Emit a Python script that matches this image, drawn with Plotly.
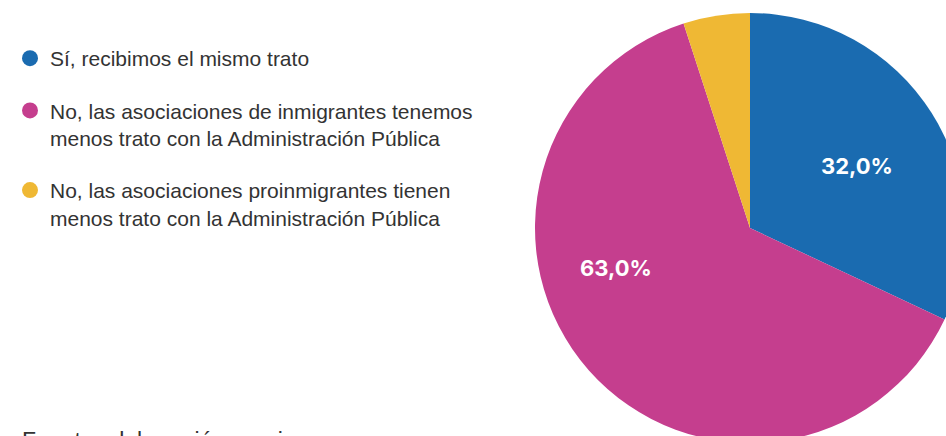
import plotly.graph_objects as go

labels = [
    "Sí, recibimos el mismo trato",
    "No, las asociaciones de inmigrantes tenemos<br>menos trato con la Administración Pública",
    "No, las asociaciones proinmigrantes tienen<br>menos trato con la Administración Pública",
]
values = [32.0, 63.0, 5.0]
show_label = [True, True, False]
colors = ["#1A6BB0", "#C53E8E", "#EFB834"]
source_text = "Fuente: elaboración propia"

W, H = 980, 456
texts = [(f"{v:.1f}%".replace(".", ",") if s else "") for v, s in zip(values, show_label)]
# label anchor positions (paper px from top-left), layout only
label_pos = [(857, 166), (616, 268), None]

fig = go.Figure()
fig.add_trace(go.Pie(
    labels=labels, values=values, textinfo="none",
    sort=False, direction="clockwise", rotation=0,
    marker=dict(colors=colors, line=dict(width=0)),
    domain=dict(x=[535 / W, 965 / W], y=[(H - 443) / H, (H - 13) / H]),
    showlegend=False, hoverinfo="none",
))
for i, (lab, col) in enumerate(zip(labels, colors)):
    fig.add_trace(go.Scatter(
        x=[None], y=[None], mode="markers", name=lab,
        marker=dict(color=col, size=18, symbol="circle"),
        legendgroup=f"g{i}", showlegend=True,
    ))

annotations = []
for t, p in zip(texts, label_pos):
    if p is None or not t:
        continue
    annotations.append(dict(
        text=t, x=p[0] / W, y=1 - p[1] / H, xref="paper", yref="paper",
        xanchor="center", yanchor="middle", showarrow=False,
        font=dict(family="Inter", size=22, color="white", weight=700),
    ))
annotations.append(dict(
    text=source_text, x=20 / W, y=1 - 426 / H, xref="paper", yref="paper",
    xanchor="left", yanchor="top", showarrow=False,
    font=dict(family="Liberation Sans", size=23, color="#333333"),
))

fig.update_layout(
    width=W, height=H,
    margin=dict(l=0, r=0, t=0, b=0),
    paper_bgcolor="white", plot_bgcolor="white",
    xaxis=dict(visible=False), yaxis=dict(visible=False),
    legend=dict(
        x=10 / W, xanchor="left", y=1 - 38 / H, yanchor="top",
        valign="top", tracegroupgap=22, itemsizing="trace",
        font=dict(family="Liberation Sans", size=21, color="#333333"),
        bgcolor="rgba(0,0,0,0)",
    ),
    annotations=annotations,
)

fig.write_html(
    "out.html",
    config={"displayModeBar": False},
    post_script="document.body.style.margin='0';document.body.style.overflow='hidden';",
)
